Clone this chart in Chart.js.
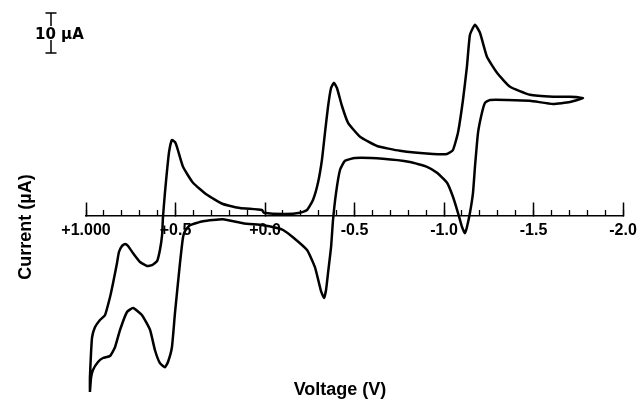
<!DOCTYPE html>
<html>
<head>
  <title>Cyclic voltammogram</title>
  <script src="https://cdn.jsdelivr.net/npm/chart.js"></script>
  <style>
    body { margin: 0; background: #fff; }
    canvas { display: block; }
  </style>
</head>
<body>
  <canvas id="cv" width="639" height="400"></canvas>

  <script>
    // potential (V) and current (uA) in scan order
    const volts = [
      0.978, 0.978, 0.972, 0.966, 0.950, 0.922, 0.894, 0.866, 0.849, 0.827,
      0.816, 0.799, 0.782, 0.765, 0.737, 0.698, 0.659, 0.631, 0.603, 0.587,
      0.575, 0.570, 0.559, 0.547, 0.536, 0.520, 0.503, 0.492, 0.458, 0.402,
      0.324, 0.235, 0.140, 0.017, 0.006, -0.112, -0.196, -0.235, -0.268, -0.296,
      -0.318, -0.335, -0.352, -0.369, -0.385, -0.402, -0.430, -0.464, -0.531, -0.626,
      -0.754, -0.939, -1.017, -1.050, -1.078, -1.106, -1.128, -1.145, -1.173, -1.201,
      -1.240, -1.296, -1.369, -1.480, -1.609, -1.704, -1.777,
      -1.704, -1.609, -1.480, -1.352, -1.257, -1.229, -1.212, -1.190, -1.173, -1.162,
      -1.145, -1.128, -1.117, -1.101, -1.078, -1.050, -1.017, -0.961, -0.905, -0.810,
      -0.659, -0.503, -0.447, -0.419, -0.397, -0.380, -0.369, -0.352, -0.341, -0.330,
      -0.313, -0.279, -0.235, -0.156, -0.101, -0.067, 0.011, 0.123, 0.235, 0.346,
      0.419, 0.447, 0.458, 0.475, 0.503, 0.520, 0.542, 0.559, 0.587, 0.615,
      0.642, 0.687, 0.737, 0.771, 0.810, 0.838, 0.866, 0.905, 0.933, 0.961,
      0.972, 0.978
    ];
    const current = [
      -44.0, -40.3, -34.3, -30.3, -27.8, -26.0, -24.8, -20.3, -16.8, -11.8,
      -9.0, -7.5, -7.0, -7.5, -9.3, -11.5, -12.5, -12.3, -11.3, -8.5,
      -4.8, -0.3, 5.8, 11.5, 16.0, 19.0, 18.5, 17.3, 12.3, 8.3,
      5.3, 3.0, 2.0, 1.5, 0.8, 0.5, 0.8, 1.5, 4.0, 8.3,
      14.0, 20.8, 27.3, 32.0, 33.3, 32.0, 27.5, 23.3, 19.8, 17.5,
      16.3, 15.5, 15.5, 16.5, 20.8, 29.0, 37.3, 45.3, 47.8, 45.8,
      39.8, 35.8, 32.3, 30.3, 29.8, 29.8, 29.5,
      28.5, 28.0, 28.8, 29.0, 29.0, 28.3, 25.8, 20.8, 12.3, 5.8,
      0.8, -2.8, -4.3, -2.8, 0.8, 4.8, 8.3, 10.8, 12.3, 13.5,
      14.3, 14.5, 13.8, 11.5, 5.8, -1.0, -7.8, -14.3, -18.5, -20.5,
      -18.8, -12.8, -8.5, -5.3, -3.5, -3.0, -2.3, -1.8, -0.8, -1.3,
      -2.3, -3.8, -5.3, -11.8, -24.3, -32.8, -36.5, -37.8, -36.8, -33.5,
      -28.5, -24.8, -23.0, -24.0, -28.5, -32.8, -35.0, -35.5, -36.5, -38.5,
      -40.5, -44.0
    ];

    const majorTicks = [1, 0.5, 0, -0.5, -1, -1.5, -2];
    const majorTickLabels = ['+1.000', '+0.5', '+0.0', '-0.5', '-1.0', '-1.5', '-2.0'];

    const xTitle = 'Voltage (V)';
    const yTitle = 'Current (\u00b5A)';
    const scaleBarLabel = '10 \u00b5A';
    const scaleBarBase = 40.75;   // uA
    const scaleBarSize = 10;      // uA

    const FONT = '"Liberation Sans", Arial, Helvetica, sans-serif';
    const WIDE = '"DejaVu Sans", "Liberation Sans", sans-serif';

    // axis titles and the 10 uA scale bar
    const annotate = {
      id: 'annotate',
      afterDraw(chart) {
        const { ctx, chartArea, scales } = chart;
        ctx.save();
        ctx.fillStyle = '#000';
        ctx.strokeStyle = '#000';

        ctx.font = 'bold 18px ' + FONT;
        ctx.textAlign = 'center';
        ctx.textBaseline = 'alphabetic';
        ctx.fillText(xTitle, 340, 395);

        ctx.save();
        ctx.translate(26, 227);
        ctx.rotate(-Math.PI / 2);
        ctx.font = 'bold 18px ' + FONT;
        ctx.textBaseline = 'middle';
        ctx.fillText(yTitle, 0, 0);
        ctx.restore();

        // scale bar
        const bx = chartArea.left - 35;
        const yTop = scales.y.getPixelForValue(scaleBarBase + scaleBarSize);
        const yBot = scales.y.getPixelForValue(scaleBarBase);
        const yMid = (yTop + yBot) / 2;
        ctx.lineWidth = 1.5;
        ctx.beginPath();
        ctx.moveTo(bx - 5.5, yTop); ctx.lineTo(bx + 5.5, yTop);
        ctx.moveTo(bx, yTop); ctx.lineTo(bx, yMid - 7);
        ctx.moveTo(bx, yMid + 7); ctx.lineTo(bx, yBot);
        ctx.moveTo(bx - 5.5, yBot); ctx.lineTo(bx + 5.5, yBot);
        ctx.stroke();

        ctx.font = 'bold 15px ' + WIDE;
        ctx.textAlign = 'left';
        ctx.fillText(scaleBarLabel, bx - 16, yMid + 5.5);
        ctx.restore();
      }
    };

    // keep the tick labels from shrinking the plot area
    const noSidePadding = (scale) => {
      scale.paddingLeft = 0;
      scale.paddingRight = 0;
    };

    const ctx = document.getElementById('cv').getContext('2d');
    new Chart(ctx, {
      type: 'scatter',
      data: {
        datasets: [{
          data: volts.map((v, i) => ({ x: v, y: current[i] })),
          showLine: true,
          borderColor: '#000',
          borderWidth: 2.5,
          pointRadius: 0,
          tension: 0.15,
          fill: false
        }]
      },
      options: {
        responsive: false,
        animation: false,
        layout: { padding: { left: 86, right: 16, top: 12, bottom: 4 } },
        plugins: {
          legend: { display: false },
          tooltip: { enabled: false }
        },
        scales: {
          x: {
            type: 'linear',
            min: -2,
            max: 1,
            reverse: true,
            position: { y: 0 },
            z: 1,
            afterBuildTicks: (scale) => {
              scale.ticks = majorTicks.map(v => ({ value: v }));
            },
            afterFit: noSidePadding,
            grid: {
              display: true,
              drawOnChartArea: false,
              drawTicks: true,
              tickLength: -14,
              tickWidth: 1.5,
              tickColor: '#000'
            },
            border: { display: true, color: '#000', width: 1.5 },
            ticks: {
              color: '#000',
              font: { family: FONT, size: 16, weight: 'bold' },
              padding: 19,
              maxRotation: 0,
              autoSkip: false,
              showLabelBackdrop: true,
              backdropColor: '#fff',
              backdropPadding: { top: 0, bottom: 0, left: 2, right: 2 },
              callback: (value, index) => majorTickLabels[index]
            }
          },
          xMinor: {
            type: 'linear',
            min: -2,
            max: 1,
            reverse: true,
            position: { y: 0 },
            z: 1,
            afterFit: noSidePadding,
            ticks: { stepSize: 0.1, display: false, autoSkip: false },
            grid: {
              display: true,
              drawOnChartArea: false,
              tickLength: -6,
              tickWidth: 1.3,
              tickColor: '#000'
            },
            border: { display: false }
          },
          y: {
            type: 'linear',
            min: -45,
            max: 51,
            display: false
          }
        }
      },
      plugins: [annotate]
    });
  </script>
</body>
</html>
